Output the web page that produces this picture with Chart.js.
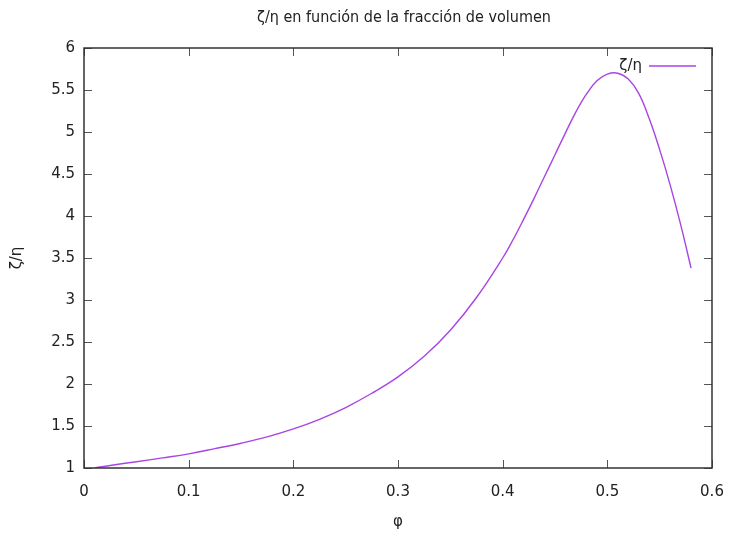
<!DOCTYPE html>
<html>
<head>
<meta charset="utf-8">
<script src="https://cdn.jsdelivr.net/npm/chart.js@4/dist/chart.umd.min.js"></script>
<style>
  html, body { margin: 0; padding: 0; background: #fff; }
  #wrap { width: 731px; height: 534px; }
</style>
</head>
<body>
<div id="wrap"><canvas id="chart" width="731" height="534"></canvas></div>
<script>
// Fracción de volumen (φ) y cociente ζ/η
const phiValues = [0.01, 0.025, 0.05, 0.075, 0.1, 0.125, 0.15, 0.175, 0.2, 0.225, 0.25, 0.275,
  0.3, 0.325, 0.35, 0.375, 0.4, 0.41, 0.42, 0.43, 0.44, 0.45, 0.46, 0.47, 0.48, 0.49,
  0.5, 0.51, 0.52, 0.53, 0.54, 0.55, 0.56, 0.57, 0.58];
const ratioValues = [1.00, 1.03, 1.075, 1.12, 1.168, 1.23, 1.295, 1.37, 1.465, 1.58, 1.72, 1.89,
  2.085, 2.33, 2.64, 3.03, 3.50, 3.72, 3.96, 4.21, 4.47, 4.73, 4.99, 5.24, 5.45, 5.61,
  5.69, 5.70, 5.63, 5.46, 5.16, 4.79, 4.37, 3.90, 3.38];
const xTicks = [0, 0.1, 0.2, 0.3, 0.4, 0.5, 0.6];
const yTicks = [1, 1.5, 2, 2.5, 3, 3.5, 4, 4.5, 5, 5.5, 6];

const seriesLabel = 'ζ/η';
const chartTitle = 'ζ/η en función de la fracción de volumen';
const lineColor = '#a844e4';
const textColor = '#222';
const tickFont = '"DejaVu Sans", sans-serif';
const titleFont = '"DejaVu Sans Condensed", "DejaVu Sans", sans-serif';

// marco y marcas hacia dentro (estilo gnuplot), título y leyenda
const framePlugin = {
  id: 'frame',
  afterDraw(chart) {
    const { ctx, chartArea: a, scales: { x, y } } = chart;
    ctx.save();
    ctx.strokeStyle = '#555';
    ctx.lineWidth = 1;
    const tl = 8;
    ctx.beginPath();
    xTicks.forEach(v => {
      const px = Math.round(x.getPixelForValue(v)) + 0.5;
      ctx.moveTo(px, a.bottom); ctx.lineTo(px, a.bottom - tl);
      ctx.moveTo(px, a.top); ctx.lineTo(px, a.top + tl);
    });
    yTicks.forEach(v => {
      const py = Math.round(y.getPixelForValue(v)) + 0.5;
      ctx.moveTo(a.left, py); ctx.lineTo(a.left + tl, py);
      ctx.moveTo(a.right, py); ctx.lineTo(a.right - tl, py);
    });
    ctx.stroke();
    ctx.strokeStyle = '#333';
    ctx.lineWidth = 1.5;
    ctx.strokeRect(a.left, a.top, a.right - a.left, a.bottom - a.top);

    // título
    ctx.fillStyle = textColor;
    ctx.textAlign = 'center';
    ctx.textBaseline = 'middle';
    ctx.font = '16px ' + titleFont;
    ctx.fillText(chartTitle, (a.left + a.right) / 2 + 6, 18);

    // leyenda
    ctx.font = '15px ' + tickFont;
    ctx.textAlign = 'right';
    ctx.fillText(seriesLabel, a.right - 70, a.top + 18);
    ctx.strokeStyle = lineColor;
    ctx.lineWidth = 1.4;
    ctx.beginPath();
    ctx.moveTo(a.right - 63, a.top + 18);
    ctx.lineTo(a.right - 16, a.top + 18);
    ctx.stroke();
    ctx.restore();
  }
};

new Chart(document.getElementById('chart'), {
  type: 'scatter',
  data: {
    datasets: [{
      label: seriesLabel,
      data: phiValues.map((p, i) => ({ x: p, y: ratioValues[i] })),
      showLine: true,
      borderColor: lineColor,
      borderWidth: 1.4,
      pointRadius: 0,
      tension: 0.4,
      fill: false,
    }],
  },
  options: {
    responsive: false,
    animation: false,
    layout: { padding: { left: 0, right: 19, top: 48, bottom: 0 } },
    plugins: {
      legend: { display: false },
      tooltip: { enabled: false },
      title: { display: false },
    },
    scales: {
      x: {
        type: 'linear',
        min: 0, max: 0.6,
        afterFit: s => { s.height = 66; s.paddingLeft = 0; s.paddingRight = 0; },
        afterBuildTicks: s => { s.ticks = xTicks.map(v => ({ value: v })); },
        grid: { display: false, drawTicks: false },
        border: { display: false },
        ticks: {
          color: textColor, padding: 15,
          font: { family: tickFont, size: 15 },
          callback: v => String(Math.round(v * 10) / 10),
        },
        title: {
          display: true, text: 'φ', color: textColor,
          font: { family: tickFont, size: 15 },
          padding: { top: 0, bottom: 3 },
        },
      },
      y: {
        min: 1, max: 6,
        afterFit: s => { s.width = 84; s.paddingTop = 0; s.paddingBottom = 0; },
        afterBuildTicks: s => { s.ticks = yTicks.map(v => ({ value: v })); },
        grid: { display: false, drawTicks: false },
        border: { display: false },
        ticks: {
          color: textColor, padding: 9,
          font: { family: tickFont, size: 15 },
          callback: v => String(Math.round(v * 10) / 10),
        },
        title: {
          display: true, text: 'ζ/η', color: textColor,
          font: { family: tickFont, size: 15 },
          padding: { top: 8, bottom: 0 },
        },
      },
    },
  },
  plugins: [framePlugin],
});
</script>
</body>
</html>
